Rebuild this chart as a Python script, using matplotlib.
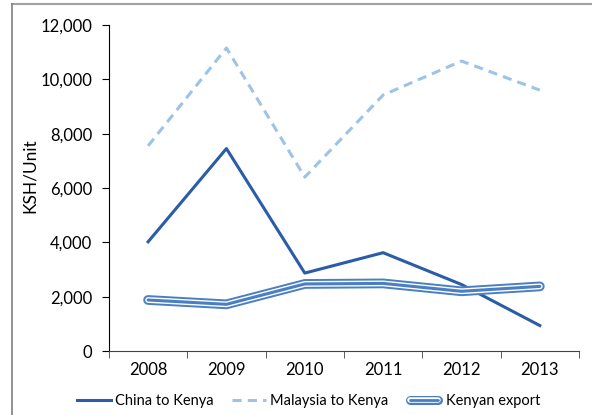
import numpy as np
import matplotlib.pyplot as plt
from matplotlib.lines import Line2D
from matplotlib.legend_handler import HandlerBase
from matplotlib.ticker import FuncFormatter

plt.rcParams['font.family'] = ['Lato', 'DejaVu Sans']

years = ['2008', '2009', '2010', '2011', '2012', '2013']
china = [4020, 7450, 2870, 3620, 2450, 940]
malaysia = [7550, 11150, 6400, 9420, 10670, 9600]
kenya = [1880, 1720, 2470, 2490, 2200, 2380]

dark_blue = '#2b5ca8'
light_blue = '#9dc3e6'
mid_blue = '#4a7fc1'


class TripleLineHandler(HandlerBase):
    # blue / white / blue stroke for the legend handle
    def create_artists(self, legend, orig, xd, yd, w, h, fs, trans):
        y = yd + h / 2
        out = []
        for lw, c in [(6.5, mid_blue), (4.0, 'white'), (2.0, mid_blue)]:
            out.append(Line2D([xd + 2, xd + w - 2], [y, y], lw=lw, color=c,
                              solid_capstyle='round', transform=trans))
        return out


fig = plt.figure(figsize=(5.92, 4.15), dpi=100)
ax = fig.add_axes([0.184, 0.154, 0.794, 0.786])

x = np.arange(len(years))
ax.plot(x, china, color=dark_blue, lw=2.2, label='China to Kenya')
ax.plot(x, malaysia, color=light_blue, lw=2.2, ls=(0, (3, 2)), label='Malaysia to Kenya')
for lw, c in [(7.0, mid_blue), (4.2, 'white'), (2.2, mid_blue)]:
    ax.plot(x, kenya, color=c, lw=lw, solid_capstyle='round', solid_joinstyle='miter')

ax.set_xlim(-0.5, len(years) - 0.5)
ax.set_ylim(0, 12000)
ax.set_yticks(range(0, 12001, 2000))
ax.yaxis.set_major_formatter(FuncFormatter(lambda v, p: f'{int(v):,}'))
ax.set_xticks(x)
ax.set_xticklabels(years)
ax.set_xticks(np.arange(-0.5, len(years), 1.0), minor=True)
ax.tick_params(axis='x', which='major', length=0, pad=8, labelsize=12)
ax.tick_params(axis='x', which='minor', length=5, direction='out', color='#404040')
ax.tick_params(axis='y', length=5, direction='out', labelsize=12, pad=7)
for s in ['top', 'right']:
    ax.spines[s].set_visible(False)
ax.spines['bottom'].set_color('#404040')
ax.spines['left'].set_color('black')
ax.set_ylabel('KSH/Unit', fontsize=12.5)
ax.yaxis.set_label_coords(-0.152, 0.537)

handles = [Line2D([], [], color=dark_blue, lw=2.2),
           Line2D([], [], color=light_blue, lw=2.2, ls=(0, (3, 2))),
           Line2D([], [], color=mid_blue)]
labels = ['China to Kenya', 'Malaysia to Kenya', 'Kenyan export']
fig.legend(handles, labels, loc='center', bbox_to_anchor=(0.521, 0.034), ncol=3,
           frameon=False, fontsize=10.5, handlelength=2.3, handletextpad=0.3,
           columnspacing=1.3, handler_map={handles[2]: TripleLineHandler()})

# grey frame along top and left
fig.add_artist(Line2D([12 / 592, 1.0], [1 - 4 / 415, 1 - 4 / 415], color='#a0a0a0', lw=1.5))
fig.add_artist(Line2D([12 / 592, 12 / 592], [0, 1 - 4 / 415], color='#808080', lw=1.2))

fig.savefig('out.png', dpi=100)
